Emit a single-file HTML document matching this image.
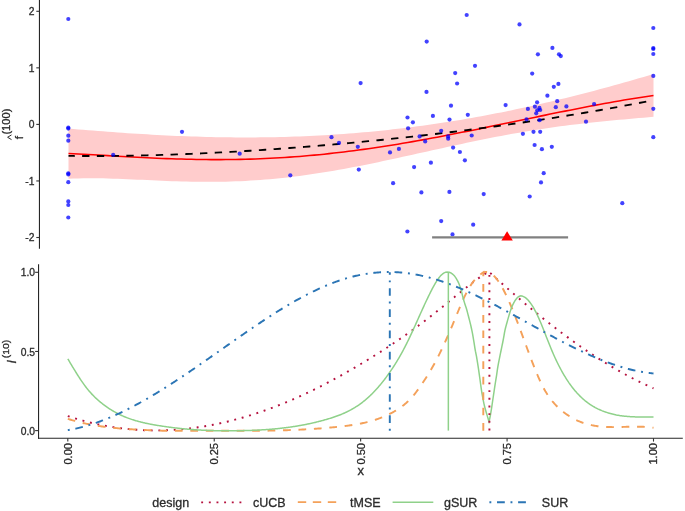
<!DOCTYPE html>
<html><head><meta charset="utf-8"><style>
html,body{margin:0;padding:0;background:#fff;width:685px;height:511px;overflow:hidden}
svg{display:block;will-change:transform}
</style></head><body>
<svg width="685" height="511" viewBox="0 0 685 511"><style>text{font-family:"Liberation Sans",sans-serif;fill:#2b2b2b;stroke:#2b2b2b;stroke-width:0.3px;paint-order:stroke}</style><rect width="685" height="511" fill="#fff"/><path d="M68.5,128.56 L73.42,128.99 L78.33,129.4 L83.25,129.81 L88.16,130.21 L93.08,130.61 L98,130.99 L102.91,131.37 L107.83,131.75 L112.74,132.11 L117.66,132.46 L122.58,132.81 L127.49,133.14 L132.41,133.46 L137.32,133.78 L142.24,134.08 L147.16,134.37 L152.07,134.66 L156.99,134.92 L161.9,135.18 L166.82,135.43 L171.74,135.66 L176.65,135.88 L181.57,136.08 L186.48,136.28 L191.4,136.45 L196.32,136.62 L201.23,136.77 L206.15,136.9 L211.06,137.02 L215.98,137.13 L220.89,137.22 L225.81,137.3 L230.73,137.35 L235.64,137.4 L240.56,137.42 L245.47,137.43 L250.39,137.43 L255.31,137.41 L260.22,137.37 L265.14,137.31 L270.05,137.23 L274.97,137.14 L279.89,137.03 L284.8,136.9 L289.72,136.76 L294.63,136.6 L299.55,136.41 L304.47,136.21 L309.38,135.99 L314.3,135.76 L319.21,135.5 L324.13,135.23 L329.05,134.93 L333.96,134.62 L338.88,134.29 L343.79,133.94 L348.71,133.57 L353.63,133.18 L358.54,132.77 L363.46,132.34 L368.37,131.89 L373.29,131.42 L378.21,130.93 L383.12,130.43 L388.04,129.9 L392.95,129.35 L397.87,128.79 L402.79,128.2 L407.7,127.6 L412.62,126.97 L417.53,126.33 L422.45,125.66 L427.37,124.98 L432.28,124.27 L437.2,123.55 L442.11,122.81 L447.03,122.04 L451.95,121.26 L456.86,120.46 L461.78,119.64 L466.69,118.8 L471.61,117.94 L476.53,117.07 L481.44,116.17 L486.36,115.25 L491.27,114.32 L496.19,113.37 L501.11,112.4 L506.02,111.41 L510.94,110.4 L515.85,109.37 L520.77,108.33 L525.68,107.27 L530.6,106.19 L535.52,105.09 L540.43,103.98 L545.35,102.84 L550.26,101.7 L555.18,100.53 L560.1,99.35 L565.01,98.15 L569.93,96.94 L574.84,95.71 L579.76,94.46 L584.68,93.2 L589.59,91.92 L594.51,90.63 L599.42,89.32 L604.34,88 L609.26,86.67 L614.17,85.32 L619.09,83.95 L624,82.58 L628.92,81.19 L633.84,79.79 L638.75,78.37 L643.67,76.94 L648.58,75.5 L653.5,74.05 L653.5,116.86 L648.58,117.28 L643.67,117.7 L638.75,118.12 L633.84,118.55 L628.92,118.97 L624,119.41 L619.09,119.85 L614.17,120.3 L609.26,120.76 L604.34,121.24 L599.42,121.73 L594.51,122.24 L589.59,122.76 L584.68,123.31 L579.76,123.88 L574.84,124.46 L569.93,125.07 L565.01,125.7 L560.1,126.35 L555.18,127.02 L550.26,127.72 L545.35,128.44 L540.43,129.18 L535.52,129.95 L530.6,130.74 L525.68,131.55 L520.77,132.39 L515.85,133.24 L510.94,134.12 L506.02,135.02 L501.11,135.94 L496.19,136.87 L491.27,137.83 L486.36,138.8 L481.44,139.79 L476.53,140.8 L471.61,141.82 L466.69,142.85 L461.78,143.89 L456.86,144.95 L451.95,146.01 L447.03,147.08 L442.11,148.16 L437.2,149.25 L432.28,150.34 L427.37,151.43 L422.45,152.52 L417.53,153.61 L412.62,154.7 L407.7,155.79 L402.79,156.87 L397.87,157.95 L392.95,159.01 L388.04,160.07 L383.12,161.12 L378.21,162.16 L373.29,163.18 L368.37,164.18 L363.46,165.17 L358.54,166.15 L353.63,167.1 L348.71,168.03 L343.79,168.94 L338.88,169.82 L333.96,170.68 L329.05,171.52 L324.13,172.33 L319.21,173.11 L314.3,173.86 L309.38,174.58 L304.47,175.27 L299.55,175.93 L294.63,176.55 L289.72,177.14 L284.8,177.7 L279.89,178.22 L274.97,178.71 L270.05,179.16 L265.14,179.58 L260.22,179.96 L255.31,180.31 L250.39,180.62 L245.47,180.89 L240.56,181.13 L235.64,181.33 L230.73,181.5 L225.81,181.63 L220.89,181.73 L215.98,181.8 L211.06,181.84 L206.15,181.84 L201.23,181.82 L196.32,181.76 L191.4,181.68 L186.48,181.58 L181.57,181.45 L176.65,181.3 L171.74,181.14 L166.82,180.95 L161.9,180.75 L156.99,180.54 L152.07,180.32 L147.16,180.1 L142.24,179.87 L137.32,179.64 L132.41,179.41 L127.49,179.19 L122.58,178.99 L117.66,178.8 L112.74,178.63 L107.83,178.48 L102.91,178.36 L98,178.28 L93.08,178.23 L88.16,178.23 L83.25,178.28 L78.33,178.38 L73.42,178.55 L68.5,178.78 Z" fill="#ffcccc" stroke="none"/><path d="M68.5,153.46 L73.42,153.7 L78.33,153.96 L83.25,154.22 L88.16,154.49 L93.08,154.77 L98,155.05 L102.91,155.33 L107.83,155.62 L112.74,155.9 L117.66,156.18 L122.58,156.46 L127.49,156.73 L132.41,157 L137.32,157.26 L142.24,157.51 L147.16,157.76 L152.07,157.99 L156.99,158.21 L161.9,158.41 L166.82,158.61 L171.74,158.79 L176.65,158.95 L181.57,159.1 L186.48,159.23 L191.4,159.34 L196.32,159.44 L201.23,159.51 L206.15,159.57 L211.06,159.61 L215.98,159.62 L220.89,159.62 L225.81,159.59 L230.73,159.54 L235.64,159.47 L240.56,159.38 L245.47,159.26 L250.39,159.12 L255.31,158.96 L260.22,158.77 L265.14,158.56 L270.05,158.32 L274.97,158.06 L279.89,157.78 L284.8,157.48 L289.72,157.14 L294.63,156.79 L299.55,156.41 L304.47,156.01 L309.38,155.58 L314.3,155.13 L319.21,154.66 L324.13,154.16 L329.05,153.64 L333.96,153.1 L338.88,152.54 L343.79,151.95 L348.71,151.34 L353.63,150.71 L358.54,150.06 L363.46,149.39 L368.37,148.69 L373.29,147.98 L378.21,147.25 L383.12,146.5 L388.04,145.73 L392.95,144.94 L397.87,144.14 L402.79,143.32 L407.7,142.48 L412.62,141.62 L417.53,140.76 L422.45,139.87 L427.37,138.98 L432.28,138.07 L437.2,137.14 L442.11,136.21 L447.03,135.26 L451.95,134.31 L456.86,133.34 L461.78,132.36 L466.69,131.38 L471.61,130.39 L476.53,129.39 L481.44,128.39 L486.36,127.38 L491.27,126.36 L496.19,125.34 L501.11,124.32 L506.02,123.3 L510.94,122.27 L515.85,121.25 L520.77,120.22 L525.68,119.2 L530.6,118.17 L535.52,117.15 L540.43,116.13 L545.35,115.12 L550.26,114.11 L555.18,113.11 L560.1,112.11 L565.01,111.12 L569.93,110.14 L574.84,109.17 L579.76,108.2 L584.68,107.25 L589.59,106.31 L594.51,105.38 L599.42,104.46 L604.34,103.56 L609.26,102.67 L614.17,101.79 L619.09,100.93 L624,100.09 L628.92,99.27 L633.84,98.46 L638.75,97.67 L643.67,96.9 L648.58,96.15 L653.5,95.42" fill="none" stroke="#ff0000" stroke-width="1.55"/><path d="M68.5,155.89 L73.42,155.94 L78.33,155.98 L83.25,156 L88.16,156.02 L93.08,156.02 L98,156.01 L102.91,155.99 L107.83,155.96 L112.74,155.92 L117.66,155.86 L122.58,155.8 L127.49,155.72 L132.41,155.64 L137.32,155.54 L142.24,155.43 L147.16,155.32 L152.07,155.19 L156.99,155.05 L161.9,154.91 L166.82,154.75 L171.74,154.59 L176.65,154.41 L181.57,154.23 L186.48,154.03 L191.4,153.83 L196.32,153.62 L201.23,153.4 L206.15,153.17 L211.06,152.93 L215.98,152.69 L220.89,152.43 L225.81,152.17 L230.73,151.9 L235.64,151.62 L240.56,151.33 L245.47,151.03 L250.39,150.73 L255.31,150.42 L260.22,150.1 L265.14,149.77 L270.05,149.44 L274.97,149.1 L279.89,148.75 L284.8,148.39 L289.72,148.02 L294.63,147.65 L299.55,147.27 L304.47,146.88 L309.38,146.49 L314.3,146.09 L319.21,145.68 L324.13,145.26 L329.05,144.84 L333.96,144.41 L338.88,143.97 L343.79,143.53 L348.71,143.08 L353.63,142.62 L358.54,142.15 L363.46,141.68 L368.37,141.2 L373.29,140.71 L378.21,140.22 L383.12,139.72 L388.04,139.21 L392.95,138.7 L397.87,138.17 L402.79,137.64 L407.7,137.11 L412.62,136.57 L417.53,136.02 L422.45,135.46 L427.37,134.89 L432.28,134.32 L437.2,133.74 L442.11,133.16 L447.03,132.56 L451.95,131.96 L456.86,131.36 L461.78,130.74 L466.69,130.12 L471.61,129.49 L476.53,128.85 L481.44,128.2 L486.36,127.55 L491.27,126.89 L496.19,126.22 L501.11,125.55 L506.02,124.86 L510.94,124.17 L515.85,123.47 L520.77,122.76 L525.68,122.04 L530.6,121.32 L535.52,120.58 L540.43,119.84 L545.35,119.09 L550.26,118.33 L555.18,117.56 L560.1,116.78 L565.01,115.99 L569.93,115.2 L574.84,114.39 L579.76,113.58 L584.68,112.76 L589.59,111.92 L594.51,111.08 L599.42,110.23 L604.34,109.36 L609.26,108.49 L614.17,107.61 L619.09,106.71 L624,105.81 L628.92,104.89 L633.84,103.97 L638.75,103.03 L643.67,102.08 L648.58,101.12 L653.5,100.15" fill="none" stroke="#000" stroke-width="1.85" stroke-dasharray="7.371 7.371" stroke-dashoffset="1.129"/><g fill="#0000ff" fill-opacity="0.74"><circle cx="68.3" cy="19" r="2.1"/><circle cx="68.3" cy="127.6" r="2.1"/><circle cx="68.3" cy="128.6" r="2.1"/><circle cx="68.3" cy="135.7" r="2.1"/><circle cx="68.3" cy="140.7" r="2.1"/><circle cx="68.3" cy="173.3" r="2.1"/><circle cx="68.3" cy="174.4" r="2.1"/><circle cx="68.3" cy="182.2" r="2.1"/><circle cx="68.3" cy="201.4" r="2.1"/><circle cx="68.3" cy="205" r="2.1"/><circle cx="68.3" cy="217.5" r="2.1"/><circle cx="113.2" cy="154.8" r="2.1"/><circle cx="182" cy="131.8" r="2.1"/><circle cx="239.7" cy="153.7" r="2.1"/><circle cx="290.3" cy="175.3" r="2.1"/><circle cx="331.5" cy="137.2" r="2.1"/><circle cx="339" cy="142.9" r="2.1"/><circle cx="357.8" cy="146.8" r="2.1"/><circle cx="358.8" cy="169.6" r="2.1"/><circle cx="360.6" cy="83.1" r="2.1"/><circle cx="390" cy="152.4" r="2.1"/><circle cx="393.1" cy="183.2" r="2.1"/><circle cx="398.9" cy="148.9" r="2.1"/><circle cx="407.5" cy="117.5" r="2.1"/><circle cx="408.1" cy="128.3" r="2.1"/><circle cx="407.4" cy="231.5" r="2.1"/><circle cx="412.9" cy="122.3" r="2.1"/><circle cx="414.1" cy="167.1" r="2.1"/><circle cx="419.6" cy="136.4" r="2.1"/><circle cx="421.4" cy="192.4" r="2.1"/><circle cx="425.2" cy="141.4" r="2.1"/><circle cx="426.5" cy="91.9" r="2.1"/><circle cx="426.7" cy="41.6" r="2.1"/><circle cx="430.9" cy="162.7" r="2.1"/><circle cx="432.9" cy="115.9" r="2.1"/><circle cx="441.2" cy="130.8" r="2.1"/><circle cx="441.2" cy="221.1" r="2.1"/><circle cx="448.1" cy="136.4" r="2.1"/><circle cx="448.2" cy="138.7" r="2.1"/><circle cx="449.5" cy="119.6" r="2.1"/><circle cx="449.4" cy="191.9" r="2.1"/><circle cx="451" cy="105.7" r="2.1"/><circle cx="452.5" cy="234.4" r="2.1"/><circle cx="453.1" cy="147.6" r="2.1"/><circle cx="455.2" cy="73.1" r="2.1"/><circle cx="457.1" cy="83.5" r="2.1"/><circle cx="459.9" cy="152" r="2.1"/><circle cx="464.9" cy="160.3" r="2.1"/><circle cx="466.7" cy="15" r="2.1"/><circle cx="467.8" cy="114.8" r="2.1"/><circle cx="471.7" cy="135.5" r="2.1"/><circle cx="473.2" cy="224.7" r="2.1"/><circle cx="475" cy="65.8" r="2.1"/><circle cx="483.7" cy="194.1" r="2.1"/><circle cx="505.6" cy="105.1" r="2.1"/><circle cx="519.5" cy="24.4" r="2.1"/><circle cx="522.9" cy="133.8" r="2.1"/><circle cx="526.5" cy="119.4" r="2.1"/><circle cx="527.9" cy="108.9" r="2.1"/><circle cx="529.7" cy="196.5" r="2.1"/><circle cx="532.2" cy="73.6" r="2.1"/><circle cx="533.5" cy="131.8" r="2.1"/><circle cx="534.6" cy="145" r="2.1"/><circle cx="534.9" cy="106.7" r="2.1"/><circle cx="536.2" cy="113.3" r="2.1"/><circle cx="537.3" cy="110.3" r="2.1"/><circle cx="537.1" cy="102.3" r="2.1"/><circle cx="537.9" cy="54.3" r="2.1"/><circle cx="539.4" cy="107.9" r="2.1"/><circle cx="540.2" cy="110" r="2.1"/><circle cx="539.6" cy="120.2" r="2.1"/><circle cx="540.2" cy="131.8" r="2.1"/><circle cx="541" cy="182.4" r="2.1"/><circle cx="541.9" cy="149.2" r="2.1"/><circle cx="543.7" cy="173.2" r="2.1"/><circle cx="547.4" cy="95.7" r="2.1"/><circle cx="551.8" cy="146.8" r="2.1"/><circle cx="552.4" cy="47.9" r="2.1"/><circle cx="555.8" cy="107.2" r="2.1"/><circle cx="557.2" cy="101.2" r="2.1"/><circle cx="558.4" cy="83.9" r="2.1"/><circle cx="553.8" cy="86.8" r="2.1"/><circle cx="559" cy="54.3" r="2.1"/><circle cx="560.8" cy="56.1" r="2.1"/><circle cx="566.4" cy="106.4" r="2.1"/><circle cx="586" cy="121.7" r="2.1"/><circle cx="594.1" cy="104" r="2.1"/><circle cx="622.3" cy="203.2" r="2.1"/><circle cx="653.3" cy="28" r="2.1"/><circle cx="653.3" cy="48" r="2.1"/><circle cx="653.3" cy="49" r="2.1"/><circle cx="653.3" cy="54" r="2.1"/><circle cx="653.3" cy="75.9" r="2.1"/><circle cx="653.3" cy="108.8" r="2.1"/><circle cx="653.3" cy="137.2" r="2.1"/></g><line x1="432.1" y1="237.35" x2="568.1" y2="237.35" stroke="#808080" stroke-width="2.1"/><path d="M507.1,231.2 L512.8,240.5 L501.4,240.5 Z" fill="#ff0000"/><line x1="39.45" y1="0" x2="39.45" y2="248.8" stroke="#262626" stroke-width="1.1"/><line x1="36.3" y1="11.3" x2="39.45" y2="11.3" stroke="#333" stroke-width="1.1"/><text x="34.5" y="15.05" text-anchor="end" font-size="10.3">2</text><line x1="36.3" y1="67.85" x2="39.45" y2="67.85" stroke="#333" stroke-width="1.1"/><text x="34.5" y="71.6" text-anchor="end" font-size="10.3">1</text><line x1="36.3" y1="124.4" x2="39.45" y2="124.4" stroke="#333" stroke-width="1.1"/><text x="34.5" y="128.15" text-anchor="end" font-size="10.3">0</text><line x1="36.3" y1="180.95" x2="39.45" y2="180.95" stroke="#333" stroke-width="1.1"/><text x="34.5" y="184.7" text-anchor="end" font-size="10.3">-1</text><line x1="36.3" y1="237.5" x2="39.45" y2="237.5" stroke="#333" stroke-width="1.1"/><text x="34.5" y="241.25" text-anchor="end" font-size="10.3">-2</text><text transform="translate(22.5,139.3) rotate(-90)" font-size="11.6">f</text><path d="M11.5,134.9 L7.6,137.25 L11.5,139.6" fill="none" stroke="#2b2b2b" stroke-width="1.0"/><text transform="translate(9.6,134.6) rotate(-90)" font-size="10.4" textLength="26" lengthAdjust="spacingAndGlyphs">(100)</text><line x1="38.55" y1="264.3" x2="38.55" y2="438.7" stroke="#262626" stroke-width="1.1"/><line x1="38" y1="438.2" x2="682.8" y2="438.2" stroke="#262626" stroke-width="1.1"/><line x1="35.1" y1="272.3" x2="38.55" y2="272.3" stroke="#333" stroke-width="1.1"/><text x="35.0" y="276.4" text-anchor="end" font-size="10.3">1.0</text><line x1="35.1" y1="351.45" x2="38.55" y2="351.45" stroke="#333" stroke-width="1.1"/><text x="35.0" y="355.55" text-anchor="end" font-size="10.3">0.5</text><line x1="35.1" y1="430.6" x2="38.55" y2="430.6" stroke="#333" stroke-width="1.1"/><text x="35.0" y="434.7" text-anchor="end" font-size="10.3">0.0</text><line x1="67.8" y1="438.2" x2="67.8" y2="441.6" stroke="#333" stroke-width="1.1"/><text transform="translate(71.7,443.0) rotate(-90)" text-anchor="end" font-size="11.1">0.00</text><line x1="214.23" y1="438.2" x2="214.23" y2="441.6" stroke="#333" stroke-width="1.1"/><text transform="translate(218.13,443.0) rotate(-90)" text-anchor="end" font-size="11.1">0.25</text><line x1="360.65" y1="438.2" x2="360.65" y2="441.6" stroke="#333" stroke-width="1.1"/><text transform="translate(364.55,443.0) rotate(-90)" text-anchor="end" font-size="11.1">0.50</text><line x1="507.08" y1="438.2" x2="507.08" y2="441.6" stroke="#333" stroke-width="1.1"/><text transform="translate(510.98,443.0) rotate(-90)" text-anchor="end" font-size="11.1">0.75</text><line x1="653.5" y1="438.2" x2="653.5" y2="441.6" stroke="#333" stroke-width="1.1"/><text transform="translate(657.4,443.0) rotate(-90)" text-anchor="end" font-size="11.1">1.00</text><text x="360.7" y="475.3" text-anchor="middle" font-size="13">x</text><text transform="translate(16.3,363.4) rotate(-90)" font-size="12.5" font-style="italic">I</text><text transform="translate(8.6,358.3) rotate(-90)" font-size="9.5" textLength="18.6" lengthAdjust="spacingAndGlyphs">(10)</text><path d="M67.8,416.07 L68.8,416.41 L69.8,416.74 L70.8,417.06 L71.81,417.38 L72.81,417.7 L73.81,418.01 L74.81,418.32 L75.81,418.62 L76.81,418.92 L77.81,419.22 L78.82,419.51 L79.82,419.8 L80.82,420.09 L81.82,420.37 L82.82,420.64 L83.82,420.92 L84.82,421.19 L85.83,421.45 L86.83,421.71 L87.83,421.97 L88.83,422.22 L89.83,422.47 L90.83,422.71 L91.83,422.96 L92.84,423.19 L93.84,423.42 L94.84,423.65 L95.84,423.88 L96.84,424.1 L97.84,424.32 L98.84,424.53 L99.85,424.74 L100.85,424.95 L101.85,425.15 L102.85,425.35 L103.85,425.54 L104.85,425.73 L105.85,425.92 L106.86,426.1 L107.86,426.28 L108.86,426.45 L109.86,426.62 L110.86,426.79 L111.86,426.95 L112.86,427.11 L113.87,427.27 L114.87,427.42 L115.87,427.57 L116.87,427.71 L117.87,427.85 L118.87,427.99 L119.87,428.12 L120.88,428.25 L121.88,428.38 L122.88,428.5 L123.88,428.62 L124.88,428.73 L125.88,428.84 L126.88,428.95 L127.89,429.05 L128.89,429.15 L129.89,429.24 L130.89,429.34 L131.89,429.42 L132.89,429.51 L133.89,429.59 L134.9,429.66 L135.9,429.74 L136.9,429.81 L137.9,429.87 L138.9,429.94 L139.9,429.99 L140.9,430.05 L141.91,430.1 L142.91,430.15 L143.91,430.19 L144.91,430.23 L145.91,430.27 L146.91,430.3 L147.91,430.33 L148.92,430.36 L149.92,430.38 L150.92,430.4 L151.92,430.41 L152.92,430.42 L153.92,430.43 L154.92,430.43 L155.93,430.43 L156.93,430.43 L157.93,430.42 L158.93,430.41 L159.93,430.4 L160.93,430.38 L161.93,430.36 L162.94,430.34 L163.94,430.31 L164.94,430.28 L165.94,430.24 L166.94,430.21 L167.94,430.16 L168.94,430.12 L169.95,430.07 L170.95,430.02 L171.95,429.96 L172.95,429.9 L173.95,429.84 L174.95,429.77 L175.95,429.7 L176.96,429.63 L177.96,429.55 L178.96,429.47 L179.96,429.39 L180.96,429.3 L181.96,429.21 L182.96,429.12 L183.97,429.02 L184.97,428.92 L185.97,428.82 L186.97,428.71 L187.97,428.6 L188.97,428.49 L189.97,428.37 L190.98,428.25 L191.98,428.12 L192.98,428 L193.98,427.87 L194.98,427.73 L195.98,427.59 L196.98,427.45 L197.99,427.31 L198.99,427.16 L199.99,427.01 L200.99,426.86 L201.99,426.7 L202.99,426.54 L203.99,426.37 L205,426.21 L206,426.04 L207,425.86 L208,425.69 L209,425.51 L210,425.32 L211,425.13 L212.01,424.94 L213.01,424.75 L214.01,424.55 L215.01,424.35 L216.01,424.15 L217.01,423.94 L218.01,423.74 L219.02,423.52 L220.02,423.31 L221.02,423.09 L222.02,422.86 L223.02,422.64 L224.02,422.41 L225.02,422.18 L226.03,421.94 L227.03,421.71 L228.03,421.46 L229.03,421.22 L230.03,420.97 L231.03,420.72 L232.03,420.47 L233.04,420.21 L234.04,419.95 L235.04,419.69 L236.04,419.42 L237.04,419.15 L238.04,418.88 L239.04,418.6 L240.05,418.32 L241.05,418.04 L242.05,417.76 L243.05,417.47 L244.05,417.18 L245.05,416.88 L246.05,416.59 L247.06,416.29 L248.06,415.98 L249.06,415.68 L250.06,415.37 L251.06,415.06 L252.06,414.74 L253.06,414.42 L254.07,414.1 L255.07,413.78 L256.07,413.45 L257.07,413.12 L258.07,412.79 L259.07,412.45 L260.07,412.11 L261.08,411.77 L262.08,411.42 L263.08,411.07 L264.08,410.72 L265.08,410.37 L266.08,410.01 L267.08,409.65 L268.09,409.29 L269.09,408.92 L270.09,408.56 L271.09,408.18 L272.09,407.81 L273.09,407.43 L274.09,407.05 L275.1,406.67 L276.1,406.28 L277.1,405.9 L278.1,405.5 L279.1,405.11 L280.1,404.71 L281.1,404.31 L282.1,403.91 L283.11,403.5 L284.11,403.09 L285.11,402.68 L286.11,402.27 L287.11,401.85 L288.11,401.43 L289.11,401.01 L290.12,400.58 L291.12,400.15 L292.12,399.72 L293.12,399.29 L294.12,398.85 L295.12,398.41 L296.12,397.97 L297.13,397.53 L298.13,397.08 L299.13,396.63 L300.13,396.17 L301.13,395.72 L302.13,395.26 L303.13,394.8 L304.14,394.33 L305.14,393.87 L306.14,393.4 L307.14,392.93 L308.14,392.45 L309.14,391.97 L310.14,391.49 L311.15,391.01 L312.15,390.53 L313.15,390.04 L314.15,389.55 L315.15,389.05 L316.15,388.56 L317.15,388.06 L318.16,387.56 L319.16,387.05 L320.16,386.55 L321.16,386.04 L322.16,385.53 L323.16,385.01 L324.16,384.5 L325.17,383.98 L326.17,383.46 L327.17,382.93 L328.17,382.41 L329.17,381.88 L330.17,381.35 L331.17,380.82 L332.18,380.28 L333.18,379.74 L334.18,379.2 L335.18,378.66 L336.18,378.11 L337.18,377.56 L338.18,377.01 L339.19,376.46 L340.19,375.91 L341.19,375.35 L342.19,374.79 L343.19,374.23 L344.19,373.67 L345.19,373.1 L346.2,372.53 L347.2,371.96 L348.2,371.39 L349.2,370.81 L350.2,370.24 L351.2,369.66 L352.2,369.08 L353.21,368.49 L354.21,367.91 L355.21,367.32 L356.21,366.73 L357.21,366.14 L358.21,365.54 L359.21,364.95 L360.22,364.35 L361.22,363.75 L362.22,363.15 L363.22,362.54 L364.22,361.94 L365.22,361.33 L366.22,360.72 L367.23,360.1 L368.23,359.49 L369.23,358.87 L370.23,358.26 L371.23,357.64 L372.23,357.01 L373.23,356.39 L374.24,355.76 L375.24,355.14 L376.24,354.51 L377.24,353.87 L378.24,353.24 L379.24,352.6 L380.24,351.97 L381.25,351.33 L382.25,350.69 L383.25,350.04 L384.25,349.39 L385.25,348.75 L386.25,348.1 L387.25,347.44 L388.26,346.79 L389.26,346.13 L390.26,345.47 L391.26,344.81 L392.26,344.14 L393.26,343.47 L394.26,342.8 L395.27,342.13 L396.27,341.45 L397.27,340.78 L398.27,340.09 L399.27,339.41 L400.27,338.72 L401.27,338.03 L402.28,337.34 L403.28,336.65 L404.28,335.95 L405.28,335.25 L406.28,334.54 L407.28,333.83 L408.28,333.12 L409.29,332.41 L410.29,331.69 L411.29,330.97 L412.29,330.25 L413.29,329.52 L414.29,328.79 L415.29,328.06 L416.3,327.32 L417.3,326.58 L418.3,325.84 L419.3,325.09 L420.3,324.34 L421.3,323.58 L422.3,322.82 L423.31,322.06 L424.31,321.29 L425.31,320.52 L426.31,319.75 L427.31,318.97 L428.31,318.19 L429.31,317.41 L430.32,316.62 L431.32,315.83 L432.32,315.04 L433.32,314.24 L434.32,313.44 L435.32,312.64 L436.32,311.84 L437.33,311.03 L438.33,310.23 L439.33,309.42 L440.33,308.61 L441.33,307.8 L442.33,306.98 L443.33,306.17 L444.34,305.35 L445.34,304.54 L446.34,303.72 L447.34,302.9 L448.34,302.09 L449.34,301.27 L450.34,300.45 L451.35,299.63 L452.35,298.82 L453.35,298 L454.35,297.19 L455.35,296.37 L456.35,295.56 L457.35,294.75 L458.36,293.94 L459.36,293.13 L460.36,292.32 L461.36,291.51 L462.36,290.71 L463.36,289.91 L464.36,289.11 L465.37,288.31 L466.37,287.52 L467.37,286.72 L468.37,285.94 L469.37,285.15 L470.37,284.37 L471.37,283.59 L472.38,282.82 L473.38,282.06 L474.38,281.3 L475.38,280.55 L476.38,279.81 L477.38,279.08 L478.38,278.36 L479.39,277.65 L480.39,276.95 L481.39,276.27 L482.39,275.59 L483.39,274.94 L484.39,274.29 L485.39,273.66 L486.4,273.05 L487.4,272.46 L488.4,271.88 L489.4,271.32 L489.4,272.25 L490.4,273.16 L491.4,274.07 L492.4,274.98 L493.4,275.89 L494.4,276.79 L495.4,277.69 L496.4,278.6 L497.4,279.5 L498.41,280.39 L499.41,281.29 L500.41,282.19 L501.41,283.08 L502.41,283.97 L503.41,284.86 L504.41,285.75 L505.41,286.63 L506.41,287.51 L507.41,288.39 L508.41,289.27 L509.41,290.15 L510.41,291.03 L511.41,291.9 L512.41,292.77 L513.41,293.64 L514.42,294.51 L515.42,295.37 L516.42,296.24 L517.42,297.1 L518.42,297.96 L519.42,298.81 L520.42,299.67 L521.42,300.52 L522.42,301.37 L523.42,302.22 L524.42,303.06 L525.42,303.91 L526.42,304.75 L527.42,305.59 L528.42,306.43 L529.42,307.26 L530.42,308.09 L531.43,308.92 L532.43,309.75 L533.43,310.58 L534.43,311.4 L535.43,312.22 L536.43,313.04 L537.43,313.85 L538.43,314.67 L539.43,315.48 L540.43,316.29 L541.43,317.09 L542.43,317.9 L543.43,318.7 L544.43,319.5 L545.43,320.29 L546.43,321.09 L547.44,321.88 L548.44,322.67 L549.44,323.45 L550.44,324.24 L551.44,325.02 L552.44,325.8 L553.44,326.57 L554.44,327.34 L555.44,328.11 L556.44,328.88 L557.44,329.65 L558.44,330.41 L559.44,331.17 L560.44,331.93 L561.44,332.68 L562.44,333.43 L563.45,334.18 L564.45,334.93 L565.45,335.67 L566.45,336.41 L567.45,337.15 L568.45,337.88 L569.45,338.61 L570.45,339.34 L571.45,340.07 L572.45,340.79 L573.45,341.51 L574.45,342.22 L575.45,342.94 L576.45,343.65 L577.45,344.36 L578.45,345.06 L579.45,345.76 L580.46,346.46 L581.46,347.16 L582.46,347.85 L583.46,348.54 L584.46,349.23 L585.46,349.91 L586.46,350.59 L587.46,351.27 L588.46,351.94 L589.46,352.61 L590.46,353.28 L591.46,353.95 L592.46,354.61 L593.46,355.27 L594.46,355.92 L595.46,356.57 L596.47,357.22 L597.47,357.86 L598.47,358.51 L599.47,359.14 L600.47,359.78 L601.47,360.41 L602.47,361.04 L603.47,361.66 L604.47,362.29 L605.47,362.9 L606.47,363.52 L607.47,364.13 L608.47,364.74 L609.47,365.34 L610.47,365.94 L611.47,366.54 L612.48,367.13 L613.48,367.72 L614.48,368.31 L615.48,368.89 L616.48,369.47 L617.48,370.05 L618.48,370.62 L619.48,371.19 L620.48,371.75 L621.48,372.32 L622.48,372.87 L623.48,373.43 L624.48,373.98 L625.48,374.52 L626.48,375.07 L627.48,375.61 L628.48,376.14 L629.49,376.67 L630.49,377.2 L631.49,377.72 L632.49,378.24 L633.49,378.76 L634.49,379.27 L635.49,379.78 L636.49,380.29 L637.49,380.79 L638.49,381.28 L639.49,381.78 L640.49,382.27 L641.49,382.75 L642.49,383.23 L643.49,383.71 L644.49,384.18 L645.5,384.65 L646.5,385.12 L647.5,385.58 L648.5,386.04 L649.5,386.49 L650.5,386.94 L651.5,387.38 L652.5,387.82 L653.5,388.26" fill="none" stroke="#b5123f" stroke-width="1.93" stroke-dasharray="1.92 5.76"/><path d="M67.8,418.83 L68.8,419.15 L69.8,419.46 L70.8,419.77 L71.8,420.07 L72.81,420.36 L73.81,420.65 L74.81,420.93 L75.81,421.21 L76.81,421.48 L77.81,421.74 L78.81,421.99 L79.81,422.25 L80.82,422.49 L81.82,422.73 L82.82,422.96 L83.82,423.19 L84.82,423.41 L85.82,423.63 L86.82,423.84 L87.82,424.05 L88.83,424.25 L89.83,424.45 L90.83,424.64 L91.83,424.82 L92.83,425.01 L93.83,425.18 L94.83,425.36 L95.83,425.52 L96.83,425.69 L97.84,425.85 L98.84,426 L99.84,426.15 L100.84,426.3 L101.84,426.44 L102.84,426.58 L103.84,426.72 L104.84,426.85 L105.85,426.98 L106.85,427.1 L107.85,427.22 L108.85,427.34 L109.85,427.45 L110.85,427.56 L111.85,427.67 L112.85,427.77 L113.86,427.88 L114.86,427.97 L115.86,428.07 L116.86,428.16 L117.86,428.26 L118.86,428.34 L119.86,428.43 L120.86,428.51 L121.87,428.59 L122.87,428.67 L123.87,428.75 L124.87,428.83 L125.87,428.9 L126.87,428.97 L127.87,429.04 L128.87,429.11 L129.87,429.17 L130.88,429.24 L131.88,429.3 L132.88,429.36 L133.88,429.43 L134.88,429.49 L135.88,429.54 L136.88,429.6 L137.88,429.66 L138.89,429.71 L139.89,429.77 L140.89,429.82 L141.89,429.87 L142.89,429.92 L143.89,429.97 L144.89,430.02 L145.89,430.07 L146.9,430.11 L147.9,430.16 L148.9,430.2 L149.9,430.24 L150.9,430.28 L151.9,430.32 L152.9,430.36 L153.9,430.4 L154.9,430.44 L155.91,430.48 L156.91,430.51 L157.91,430.55 L158.91,430.58 L159.91,430.61 L160.91,430.64 L161.91,430.67 L162.91,430.7 L163.92,430.7 L164.92,430.7 L165.92,430.7 L166.92,430.7 L167.92,430.7 L168.92,430.7 L169.92,430.7 L170.92,430.7 L171.93,430.7 L172.93,430.7 L173.93,430.7 L174.93,430.7 L175.93,430.7 L176.93,430.7 L177.93,430.7 L178.93,430.7 L179.93,430.7 L180.94,430.7 L181.94,430.7 L182.94,430.7 L183.94,430.7 L184.94,430.7 L185.94,430.7 L186.94,430.7 L187.94,430.7 L188.95,430.7 L189.95,430.7 L190.95,430.7 L191.95,430.7 L192.95,430.7 L193.95,430.7 L194.95,430.7 L195.95,430.7 L196.96,430.7 L197.96,430.7 L198.96,430.7 L199.96,430.7 L200.96,430.7 L201.96,430.7 L202.96,430.7 L203.96,430.7 L204.97,430.7 L205.97,430.7 L206.97,430.7 L207.97,430.7 L208.97,430.7 L209.97,430.7 L210.97,430.7 L211.97,430.7 L212.97,430.7 L213.98,430.7 L214.98,430.7 L215.98,430.7 L216.98,430.7 L217.98,430.7 L218.98,430.7 L219.98,430.7 L220.98,430.7 L221.99,430.7 L222.99,430.7 L223.99,430.7 L224.99,430.7 L225.99,430.7 L226.99,430.7 L227.99,430.7 L228.99,430.7 L230,430.7 L231,430.7 L232,430.7 L233,430.7 L234,430.7 L235,430.7 L236,430.7 L237,430.7 L238,430.7 L239.01,430.7 L240.01,430.7 L241.01,430.7 L242.01,430.7 L243.01,430.7 L244.01,430.7 L245.01,430.7 L246.01,430.7 L247.02,430.7 L248.02,430.7 L249.02,430.7 L250.02,430.7 L251.02,430.7 L252.02,430.7 L253.02,430.7 L254.02,430.7 L255.03,430.7 L256.03,430.7 L257.03,430.7 L258.03,430.7 L259.03,430.7 L260.03,430.7 L261.03,430.7 L262.03,430.7 L263.03,430.7 L264.04,430.7 L265.04,430.7 L266.04,430.7 L267.04,430.69 L268.04,430.67 L269.04,430.65 L270.04,430.63 L271.04,430.61 L272.05,430.59 L273.05,430.57 L274.05,430.54 L275.05,430.52 L276.05,430.5 L277.05,430.47 L278.05,430.44 L279.05,430.42 L280.06,430.39 L281.06,430.36 L282.06,430.33 L283.06,430.3 L284.06,430.27 L285.06,430.24 L286.06,430.21 L287.06,430.17 L288.07,430.14 L289.07,430.1 L290.07,430.07 L291.07,430.03 L292.07,429.99 L293.07,429.95 L294.07,429.91 L295.07,429.87 L296.07,429.82 L297.08,429.78 L298.08,429.74 L299.08,429.69 L300.08,429.64 L301.08,429.59 L302.08,429.54 L303.08,429.49 L304.08,429.44 L305.09,429.39 L306.09,429.33 L307.09,429.27 L308.09,429.22 L309.09,429.16 L310.09,429.1 L311.09,429.04 L312.09,428.97 L313.1,428.91 L314.1,428.84 L315.1,428.78 L316.1,428.71 L317.1,428.64 L318.1,428.57 L319.1,428.49 L320.1,428.42 L321.1,428.34 L322.11,428.26 L323.11,428.18 L324.11,428.1 L325.11,428.02 L326.11,427.94 L327.11,427.85 L328.11,427.76 L329.11,427.67 L330.12,427.58 L331.12,427.49 L332.12,427.39 L333.12,427.3 L334.12,427.2 L335.12,427.1 L336.12,427 L337.12,426.89 L338.13,426.79 L339.13,426.68 L340.13,426.57 L341.13,426.46 L342.13,426.35 L343.13,426.23 L344.13,426.11 L345.13,425.99 L346.13,425.87 L347.14,425.74 L348.14,425.61 L349.14,425.47 L350.14,425.33 L351.14,425.19 L352.14,425.04 L353.14,424.89 L354.14,424.73 L355.15,424.57 L356.15,424.4 L357.15,424.22 L358.15,424.04 L359.15,423.85 L360.15,423.66 L361.15,423.46 L362.15,423.25 L363.16,423.04 L364.16,422.82 L365.16,422.59 L366.16,422.35 L367.16,422.11 L368.16,421.85 L369.16,421.59 L370.16,421.32 L371.17,421.04 L372.17,420.75 L373.17,420.45 L374.17,420.14 L375.17,419.82 L376.17,419.49 L377.17,419.15 L378.17,418.8 L379.17,418.44 L380.18,418.07 L381.18,417.68 L382.18,417.29 L383.18,416.88 L384.18,416.46 L385.18,416.03 L386.18,415.58 L387.18,415.13 L388.19,414.66 L389.19,414.17 L390.19,413.67 L391.19,413.16 L392.19,412.64 L393.19,412.09 L394.19,411.53 L395.19,410.95 L396.2,410.35 L397.2,409.73 L398.2,409.09 L399.2,408.42 L400.2,407.72 L401.2,407 L402.2,406.25 L403.2,405.47 L404.2,404.66 L405.21,403.81 L406.21,402.94 L407.21,402.02 L408.21,401.08 L409.21,400.09 L410.21,399.06 L411.21,397.99 L412.21,396.88 L413.22,395.73 L414.22,394.54 L415.22,393.29 L416.22,392.01 L417.22,390.68 L418.22,389.31 L419.22,387.92 L420.22,386.49 L421.23,385.03 L422.23,383.54 L423.23,382.04 L424.23,380.52 L425.23,378.98 L426.23,377.42 L427.23,375.84 L428.23,374.24 L429.23,372.62 L430.24,370.96 L431.24,369.27 L432.24,367.54 L433.24,365.77 L434.24,363.97 L435.24,362.12 L436.24,360.24 L437.24,358.32 L438.25,356.37 L439.25,354.37 L440.25,352.35 L441.25,350.29 L442.25,348.2 L443.25,346.07 L444.25,343.91 L445.25,341.72 L446.26,339.5 L447.26,337.25 L448.26,334.97 L449.26,332.67 L450.26,330.33 L451.26,327.97 L452.26,325.58 L453.26,323.16 L454.27,320.73 L455.27,318.29 L456.27,315.85 L457.27,313.42 L458.27,311 L459.27,308.6 L460.27,306.23 L461.27,303.9 L462.27,301.62 L463.28,299.39 L464.28,297.22 L465.28,295.11 L466.28,293.09 L467.28,291.15 L468.28,289.3 L469.28,287.55 L470.28,285.91 L471.29,284.38 L472.29,282.96 L473.29,281.64 L474.29,280.41 L475.29,279.26 L476.29,278.19 L477.29,277.2 L478.29,276.26 L479.3,275.39 L480.3,274.56 L481.3,273.78 L482.3,273.03 L483.3,272.31 L483.3,272.49 L484.3,272.15 L485.3,271.95 L486.3,271.89 L487.3,271.98 L488.31,272.21 L489.31,272.57 L490.31,273.05 L491.31,273.67 L492.31,274.4 L493.31,275.26 L494.31,276.23 L495.31,277.31 L496.32,278.5 L497.32,279.8 L498.32,281.19 L499.32,282.68 L500.32,284.27 L501.32,285.94 L502.32,287.7 L503.32,289.55 L504.32,291.47 L505.33,293.46 L506.33,295.53 L507.33,297.67 L508.33,299.87 L509.33,302.13 L510.33,304.44 L511.33,306.81 L512.33,309.23 L513.34,311.7 L514.34,314.21 L515.34,316.75 L516.34,319.33 L517.34,321.94 L518.34,324.58 L519.34,327.25 L520.34,329.93 L521.34,332.63 L522.35,335.34 L523.35,338.06 L524.35,340.79 L525.35,343.52 L526.35,346.25 L527.35,348.97 L528.35,351.68 L529.35,354.37 L530.36,357.05 L531.36,359.7 L532.36,362.31 L533.36,364.89 L534.36,367.43 L535.36,369.92 L536.36,372.36 L537.36,374.75 L538.36,377.07 L539.37,379.32 L540.37,381.51 L541.37,383.61 L542.37,385.64 L543.37,387.57 L544.37,389.42 L545.37,391.18 L546.37,392.85 L547.38,394.44 L548.38,395.95 L549.38,397.39 L550.38,398.75 L551.38,400.06 L552.38,401.3 L553.38,402.48 L554.38,403.61 L555.38,404.69 L556.39,405.72 L557.39,406.71 L558.39,407.66 L559.39,408.57 L560.39,409.46 L561.39,410.32 L562.39,411.15 L563.39,411.95 L564.4,412.72 L565.4,413.47 L566.4,414.2 L567.4,414.9 L568.4,415.57 L569.4,416.22 L570.4,416.84 L571.4,417.44 L572.4,418.02 L573.41,418.58 L574.41,419.11 L575.41,419.62 L576.41,420.11 L577.41,420.58 L578.41,421.02 L579.41,421.45 L580.41,421.86 L581.42,422.25 L582.42,422.62 L583.42,422.97 L584.42,423.3 L585.42,423.61 L586.42,423.91 L587.42,424.19 L588.42,424.46 L589.42,424.71 L590.43,424.94 L591.43,425.16 L592.43,425.37 L593.43,425.56 L594.43,425.73 L595.43,425.9 L596.43,426.05 L597.43,426.19 L598.44,426.31 L599.44,426.43 L600.44,426.53 L601.44,426.63 L602.44,426.71 L603.44,426.78 L604.44,426.85 L605.44,426.91 L606.44,426.95 L607.45,426.99 L608.45,427.02 L609.45,427.05 L610.45,427.07 L611.45,427.08 L612.45,427.09 L613.45,427.09 L614.45,427.08 L615.46,427.08 L616.46,427.06 L617.46,427.05 L618.46,427.03 L619.46,427.01 L620.46,426.99 L621.46,426.96 L622.46,426.93 L623.46,426.9 L624.47,426.88 L625.47,426.85 L626.47,426.82 L627.47,426.79 L628.47,426.77 L629.47,426.74 L630.47,426.72 L631.47,426.7 L632.48,426.68 L633.48,426.67 L634.48,426.66 L635.48,426.66 L636.48,426.66 L637.48,426.66 L638.48,426.67 L639.48,426.69 L640.48,426.71 L641.49,426.74 L642.49,426.78 L643.49,426.83 L644.49,426.88 L645.49,426.94 L646.49,427.01 L647.49,427.09 L648.49,427.18 L649.5,427.29 L650.5,427.4 L651.5,427.52 L652.5,427.66 L653.5,427.8" fill="none" stroke="#f4a15a" stroke-width="1.93" stroke-dasharray="7.72 7.73"/><path d="M67.8,358.78 L68.5,359.96 L69.2,361.15 L69.9,362.33 L70.6,363.51 L71.3,364.68 L72,365.85 L72.71,367.02 L73.41,368.18 L74.11,369.33 L74.81,370.48 L75.51,371.62 L76.21,372.75 L76.91,373.87 L77.61,374.98 L78.31,376.08 L79.01,377.17 L79.71,378.24 L80.41,379.3 L81.11,380.35 L81.81,381.38 L82.52,382.4 L83.22,383.4 L83.92,384.38 L84.62,385.35 L85.32,386.29 L86.02,387.22 L86.72,388.12 L87.42,389.01 L88.12,389.87 L88.82,390.71 L89.52,391.53 L90.22,392.34 L90.92,393.12 L91.63,393.88 L92.33,394.62 L93.03,395.35 L93.73,396.06 L94.43,396.76 L95.13,397.44 L95.83,398.1 L96.53,398.75 L97.23,399.39 L97.93,400.01 L98.63,400.62 L99.33,401.22 L100.03,401.81 L100.73,402.39 L101.44,402.95 L102.14,403.51 L102.84,404.06 L103.54,404.6 L104.24,405.13 L104.94,405.65 L105.64,406.16 L106.34,406.66 L107.04,407.15 L107.74,407.63 L108.44,408.1 L109.14,408.57 L109.84,409.02 L110.54,409.47 L111.25,409.91 L111.95,410.34 L112.65,410.76 L113.35,411.17 L114.05,411.57 L114.75,411.97 L115.45,412.36 L116.15,412.74 L116.85,413.11 L117.55,413.48 L118.25,413.84 L118.95,414.19 L119.65,414.53 L120.36,414.87 L121.06,415.2 L121.76,415.52 L122.46,415.84 L123.16,416.15 L123.86,416.45 L124.56,416.74 L125.26,417.03 L125.96,417.32 L126.66,417.59 L127.36,417.86 L128.06,418.13 L128.76,418.39 L129.46,418.64 L130.17,418.89 L130.87,419.13 L131.57,419.37 L132.27,419.6 L132.97,419.83 L133.67,420.05 L134.37,420.26 L135.07,420.47 L135.77,420.68 L136.47,420.88 L137.17,421.08 L137.87,421.27 L138.57,421.46 L139.28,421.65 L139.98,421.83 L140.68,422.01 L141.38,422.18 L142.08,422.35 L142.78,422.51 L143.48,422.68 L144.18,422.84 L144.88,422.99 L145.58,423.15 L146.28,423.3 L146.98,423.44 L147.68,423.59 L148.38,423.73 L149.09,423.87 L149.79,424 L150.49,424.14 L151.19,424.27 L151.89,424.4 L152.59,424.53 L153.29,424.66 L153.99,424.78 L154.69,424.91 L155.39,425.03 L156.09,425.15 L156.79,425.27 L157.49,425.39 L158.2,425.5 L158.9,425.62 L159.6,425.73 L160.3,425.84 L161,425.95 L161.7,426.06 L162.4,426.17 L163.1,426.28 L163.8,426.38 L164.5,426.48 L165.2,426.59 L165.9,426.69 L166.6,426.79 L167.3,426.88 L168.01,426.98 L168.71,427.08 L169.41,427.17 L170.11,427.26 L170.81,427.35 L171.51,427.44 L172.21,427.53 L172.91,427.62 L173.61,427.71 L174.31,427.79 L175.01,427.88 L175.71,427.96 L176.41,428.04 L177.11,428.12 L177.82,428.2 L178.52,428.27 L179.22,428.35 L179.92,428.42 L180.62,428.5 L181.32,428.57 L182.02,428.64 L182.72,428.71 L183.42,428.78 L184.12,428.84 L184.82,428.91 L185.52,428.98 L186.22,429.04 L186.93,429.1 L187.63,429.16 L188.33,429.22 L189.03,429.28 L189.73,429.34 L190.43,429.39 L191.13,429.45 L191.83,429.5 L192.53,429.56 L193.23,429.61 L193.93,429.66 L194.63,429.71 L195.33,429.76 L196.03,429.8 L196.74,429.85 L197.44,429.89 L198.14,429.94 L198.84,429.98 L199.54,430.02 L200.24,430.06 L200.94,430.1 L201.64,430.14 L202.34,430.17 L203.04,430.21 L203.74,430.25 L204.44,430.28 L205.14,430.31 L205.85,430.34 L206.55,430.37 L207.25,430.4 L207.95,430.43 L208.65,430.46 L209.35,430.49 L210.05,430.51 L210.75,430.54 L211.45,430.56 L212.15,430.58 L212.85,430.6 L213.55,430.62 L214.25,430.64 L214.95,430.66 L215.66,430.68 L216.36,430.69 L217.06,430.7 L217.76,430.7 L218.46,430.7 L219.16,430.7 L219.86,430.7 L220.56,430.7 L221.26,430.7 L221.96,430.7 L222.66,430.7 L223.36,430.7 L224.06,430.7 L224.77,430.7 L225.47,430.7 L226.17,430.7 L226.87,430.7 L227.57,430.7 L228.27,430.7 L228.97,430.7 L229.67,430.7 L230.37,430.7 L231.07,430.7 L231.77,430.7 L232.47,430.7 L233.17,430.7 L233.87,430.7 L234.58,430.7 L235.28,430.7 L235.98,430.7 L236.68,430.7 L237.38,430.7 L238.08,430.7 L238.78,430.7 L239.48,430.7 L240.18,430.7 L240.88,430.69 L241.58,430.68 L242.28,430.66 L242.98,430.64 L243.68,430.62 L244.39,430.61 L245.09,430.59 L245.79,430.57 L246.49,430.55 L247.19,430.52 L247.89,430.5 L248.59,430.48 L249.29,430.45 L249.99,430.43 L250.69,430.4 L251.39,430.38 L252.09,430.35 L252.79,430.32 L253.5,430.29 L254.2,430.26 L254.9,430.23 L255.6,430.2 L256.3,430.16 L257,430.13 L257.7,430.09 L258.4,430.06 L259.1,430.02 L259.8,429.98 L260.5,429.94 L261.2,429.9 L261.9,429.86 L262.6,429.81 L263.31,429.77 L264.01,429.73 L264.71,429.68 L265.41,429.63 L266.11,429.58 L266.81,429.53 L267.51,429.48 L268.21,429.43 L268.91,429.38 L269.61,429.32 L270.31,429.26 L271.01,429.21 L271.71,429.15 L272.42,429.09 L273.12,429.03 L273.82,428.96 L274.52,428.9 L275.22,428.83 L275.92,428.77 L276.62,428.7 L277.32,428.63 L278.02,428.56 L278.72,428.49 L279.42,428.41 L280.12,428.34 L280.82,428.26 L281.52,428.18 L282.23,428.1 L282.93,428.02 L283.63,427.94 L284.33,427.85 L285.03,427.77 L285.73,427.68 L286.43,427.59 L287.13,427.5 L287.83,427.41 L288.53,427.31 L289.23,427.22 L289.93,427.12 L290.63,427.02 L291.33,426.92 L292.04,426.82 L292.74,426.71 L293.44,426.61 L294.14,426.5 L294.84,426.39 L295.54,426.28 L296.24,426.17 L296.94,426.05 L297.64,425.93 L298.34,425.82 L299.04,425.7 L299.74,425.57 L300.44,425.45 L301.15,425.32 L301.85,425.2 L302.55,425.07 L303.25,424.94 L303.95,424.8 L304.65,424.67 L305.35,424.53 L306.05,424.39 L306.75,424.25 L307.45,424.11 L308.15,423.96 L308.85,423.81 L309.55,423.67 L310.25,423.51 L310.96,423.36 L311.66,423.21 L312.36,423.05 L313.06,422.89 L313.76,422.73 L314.46,422.56 L315.16,422.4 L315.86,422.23 L316.56,422.06 L317.26,421.89 L317.96,421.71 L318.66,421.53 L319.36,421.35 L320.07,421.17 L320.77,420.99 L321.47,420.8 L322.17,420.61 L322.87,420.42 L323.57,420.23 L324.27,420.04 L324.97,419.84 L325.67,419.64 L326.37,419.44 L327.07,419.23 L327.77,419.02 L328.47,418.81 L329.17,418.6 L329.88,418.39 L330.58,418.17 L331.28,417.95 L331.98,417.73 L332.68,417.5 L333.38,417.27 L334.08,417.03 L334.78,416.79 L335.48,416.55 L336.18,416.3 L336.88,416.05 L337.58,415.79 L338.28,415.53 L338.99,415.27 L339.69,415 L340.39,414.72 L341.09,414.44 L341.79,414.15 L342.49,413.86 L343.19,413.56 L343.89,413.25 L344.59,412.94 L345.29,412.62 L345.99,412.29 L346.69,411.96 L347.39,411.62 L348.09,411.27 L348.8,410.92 L349.5,410.56 L350.2,410.19 L350.9,409.81 L351.6,409.42 L352.3,409.03 L353,408.63 L353.7,408.21 L354.4,407.79 L355.1,407.37 L355.8,406.93 L356.5,406.48 L357.2,406.02 L357.9,405.55 L358.61,405.08 L359.31,404.59 L360.01,404.09 L360.71,403.59 L361.41,403.07 L362.11,402.54 L362.81,402 L363.51,401.45 L364.21,400.89 L364.91,400.31 L365.61,399.73 L366.31,399.13 L367.01,398.52 L367.72,397.9 L368.42,397.27 L369.12,396.63 L369.82,395.97 L370.52,395.3 L371.22,394.62 L371.92,393.93 L372.62,393.23 L373.32,392.51 L374.02,391.79 L374.72,391.05 L375.42,390.3 L376.12,389.54 L376.82,388.76 L377.53,387.97 L378.23,387.17 L378.93,386.36 L379.63,385.54 L380.33,384.7 L381.03,383.86 L381.73,383 L382.43,382.12 L383.13,381.24 L383.83,380.34 L384.53,379.43 L385.23,378.51 L385.93,377.58 L386.64,376.63 L387.34,375.67 L388.04,374.7 L388.74,373.72 L389.44,372.72 L390.14,371.72 L390.84,370.69 L391.54,369.66 L392.24,368.61 L392.94,367.55 L393.64,366.47 L394.34,365.38 L395.04,364.28 L395.74,363.16 L396.45,362.03 L397.15,360.87 L397.85,359.71 L398.55,358.52 L399.25,357.32 L399.95,356.11 L400.65,354.87 L401.35,353.62 L402.05,352.35 L402.75,351.06 L403.45,349.75 L404.15,348.43 L404.85,347.08 L405.56,345.71 L406.26,344.33 L406.96,342.92 L407.66,341.5 L408.36,340.06 L409.06,338.6 L409.76,337.13 L410.46,335.65 L411.16,334.15 L411.86,332.64 L412.56,331.12 L413.26,329.59 L413.96,328.06 L414.66,326.51 L415.37,324.96 L416.07,323.41 L416.77,321.85 L417.47,320.29 L418.17,318.73 L418.87,317.17 L419.57,315.61 L420.27,314.05 L420.97,312.49 L421.67,310.94 L422.37,309.4 L423.07,307.86 L423.77,306.33 L424.47,304.8 L425.18,303.29 L425.88,301.79 L426.58,300.3 L427.28,298.82 L427.98,297.36 L428.68,295.91 L429.38,294.48 L430.08,293.07 L430.78,291.68 L431.48,290.3 L432.18,288.95 L432.88,287.63 L433.58,286.34 L434.29,285.08 L434.99,283.86 L435.69,282.68 L436.39,281.54 L437.09,280.45 L437.79,279.41 L438.49,278.43 L439.19,277.5 L439.89,276.63 L440.59,275.83 L441.29,275.1 L441.99,274.44 L442.69,273.85 L443.39,273.35 L444.1,272.92 L444.8,272.58 L445.5,272.33 L446.2,272.17 L446.9,272.11 L447.6,272.15 L448.3,272.29 L448.3,272.1 L448.8,272.15 L449.3,272.26 L449.81,272.44 L450.31,272.66 L450.81,272.93 L451.31,273.24 L451.82,273.58 L452.32,273.94 L452.82,274.31 L453.32,274.7 L453.83,275.16 L454.33,275.71 L454.83,276.34 L455.33,277.06 L455.84,277.83 L456.34,278.67 L456.84,279.54 L457.34,280.46 L457.85,281.4 L458.35,282.41 L458.85,283.54 L459.35,284.78 L459.86,286.13 L460.36,287.58 L460.86,289.17 L461.36,291.02 L461.87,293.03 L462.37,295.11 L462.87,297.15 L463.37,299.06 L463.88,300.77 L464.38,302.36 L464.88,303.9 L465.38,305.41 L465.89,306.96 L466.39,308.58 L466.89,310.33 L467.39,312.17 L467.9,314.09 L468.4,316.04 L468.9,317.99 L469.4,319.93 L469.91,321.88 L470.41,323.89 L470.91,326.01 L471.41,328.27 L471.92,330.65 L472.42,333.18 L472.92,335.87 L473.42,338.81 L473.93,341.91 L474.43,345.14 L474.93,348.39 L475.43,351.15 L475.94,353.64 L476.44,356.17 L476.94,359.01 L477.44,362.13 L477.95,365.39 L478.45,368.69 L478.95,372.08 L479.45,375.58 L479.96,379.27 L480.46,382.99 L480.96,386.56 L481.46,390.07 L481.97,393.29 L482.47,396.19 L482.97,398.92 L483.47,401.47 L483.98,403.82 L484.48,405.96 L484.98,407.91 L485.48,409.74 L485.99,411.48 L486.49,413.19 L486.99,414.91 L487.49,416.63 L488,418.32 L488.5,419.98 L489,421.6 L489,421.6 L489.5,419.55 L490,417.23 L490.5,414.67 L491,411.73 L491.5,408.54 L492,405.3 L492.5,401.94 L493,398.51 L493.5,395.13 L494,391.77 L494.5,388.42 L495,385.14 L495.5,382 L496,378.95 L496.5,375.84 L497,372.47 L497.5,368.97 L498,365.82 L498.5,363.09 L499,360.57 L499.5,358.1 L500,355.61 L500.5,353.17 L501,350.75 L501.5,348.31 L502,345.9 L502.5,343.49 L503,341.02 L503.5,338.39 L504,335.54 L504.5,332.71 L505,330.2 L505.5,328.04 L506,326.07 L506.5,324.21 L507,322.43 L507.5,320.66 L508,318.87 L508.5,317.09 L509,315.35 L509.5,313.68 L510,312.1 L510.5,310.62 L511,309.2 L511.5,307.83 L512,306.55 L512.5,305.36 L513,304.3 L513.5,303.31 L514,302.38 L514.5,301.51 L515,300.7 L515.5,299.96 L516,299.3 L516.5,298.68 L517,298.08 L517.5,297.53 L518,297.06 L518.5,296.7 L519,296.46 L519.5,296.25 L520,296.07 L520.5,295.95 L521,295.9 L521,295.88 L522,296.05 L523.01,296.37 L524.01,296.84 L525.02,297.45 L526.02,298.19 L527.02,299.07 L528.03,300.07 L529.03,301.21 L530.03,302.47 L531.04,303.85 L532.04,305.35 L533.05,306.97 L534.05,308.69 L535.05,310.53 L536.06,312.46 L537.06,314.51 L538.06,316.65 L539.07,318.88 L540.07,321.19 L541.08,323.58 L542.08,326.03 L543.08,328.52 L544.09,331.05 L545.09,333.6 L546.09,336.16 L547.1,338.73 L548.1,341.28 L549.11,343.81 L550.11,346.31 L551.11,348.76 L552.12,351.15 L553.12,353.48 L554.12,355.75 L555.13,357.96 L556.13,360.11 L557.14,362.21 L558.14,364.24 L559.14,366.22 L560.15,368.14 L561.15,370.01 L562.16,371.83 L563.16,373.59 L564.16,375.3 L565.17,376.96 L566.17,378.57 L567.17,380.13 L568.18,381.64 L569.18,383.11 L570.19,384.52 L571.19,385.9 L572.19,387.22 L573.2,388.51 L574.2,389.75 L575.2,390.95 L576.21,392.11 L577.21,393.23 L578.22,394.31 L579.22,395.35 L580.22,396.35 L581.23,397.32 L582.23,398.25 L583.23,399.15 L584.24,400.01 L585.24,400.85 L586.25,401.64 L587.25,402.41 L588.25,403.15 L589.26,403.86 L590.26,404.54 L591.27,405.2 L592.27,405.82 L593.27,406.43 L594.28,407 L595.28,407.56 L596.28,408.09 L597.29,408.6 L598.29,409.09 L599.3,409.55 L600.3,410 L601.3,410.43 L602.31,410.85 L603.31,411.24 L604.31,411.62 L605.32,411.98 L606.32,412.33 L607.33,412.65 L608.33,412.97 L609.33,413.27 L610.34,413.55 L611.34,413.82 L612.34,414.07 L613.35,414.31 L614.35,414.54 L615.36,414.75 L616.36,414.96 L617.36,415.14 L618.37,415.32 L619.37,415.49 L620.38,415.64 L621.38,415.79 L622.38,415.92 L623.39,416.05 L624.39,416.16 L625.39,416.27 L626.4,416.36 L627.4,416.45 L628.41,416.53 L629.41,416.6 L630.41,416.67 L631.42,416.73 L632.42,416.78 L633.42,416.83 L634.43,416.87 L635.43,416.9 L636.44,416.93 L637.44,416.96 L638.44,416.98 L639.45,416.99 L640.45,417.01 L641.45,417.02 L642.46,417.03 L643.46,417.03 L644.47,417.04 L645.47,417.04 L646.47,417.04 L647.48,417.04 L648.48,417.04 L649.48,417.04 L650.49,417.04 L651.49,417.04 L652.5,417.05 L653.5,417.05" fill="none" stroke="#8fd18a" stroke-width="1.5"/><path d="M67.8,430.15 L68.8,429.98 L69.8,429.8 L70.8,429.62 L71.8,429.43 L72.81,429.23 L73.81,429.03 L74.81,428.81 L75.81,428.6 L76.81,428.37 L77.81,428.14 L78.81,427.9 L79.81,427.66 L80.82,427.41 L81.82,427.15 L82.82,426.89 L83.82,426.62 L84.82,426.34 L85.82,426.06 L86.82,425.77 L87.82,425.47 L88.83,425.17 L89.83,424.86 L90.83,424.55 L91.83,424.23 L92.83,423.91 L93.83,423.57 L94.83,423.24 L95.83,422.9 L96.83,422.55 L97.84,422.19 L98.84,421.83 L99.84,421.47 L100.84,421.1 L101.84,420.72 L102.84,420.34 L103.84,419.95 L104.84,419.56 L105.85,419.16 L106.85,418.76 L107.85,418.35 L108.85,417.93 L109.85,417.52 L110.85,417.09 L111.85,416.66 L112.85,416.23 L113.86,415.79 L114.86,415.35 L115.86,414.9 L116.86,414.44 L117.86,413.98 L118.86,413.52 L119.86,413.05 L120.86,412.58 L121.86,412.1 L122.87,411.62 L123.87,411.14 L124.87,410.65 L125.87,410.15 L126.87,409.65 L127.87,409.15 L128.87,408.64 L129.87,408.13 L130.88,407.61 L131.88,407.09 L132.88,406.57 L133.88,406.04 L134.88,405.51 L135.88,404.97 L136.88,404.43 L137.88,403.88 L138.88,403.34 L139.89,402.78 L140.89,402.23 L141.89,401.67 L142.89,401.11 L143.89,400.54 L144.89,399.97 L145.89,399.4 L146.89,398.82 L147.9,398.24 L148.9,397.66 L149.9,397.07 L150.9,396.48 L151.9,395.88 L152.9,395.29 L153.9,394.69 L154.9,394.09 L155.91,393.48 L156.91,392.87 L157.91,392.26 L158.91,391.64 L159.91,391.03 L160.91,390.41 L161.91,389.78 L162.91,389.16 L163.91,388.53 L164.92,387.9 L165.92,387.27 L166.92,386.63 L167.92,385.99 L168.92,385.35 L169.92,384.71 L170.92,384.06 L171.92,383.41 L172.93,382.76 L173.93,382.11 L174.93,381.46 L175.93,380.8 L176.93,380.14 L177.93,379.48 L178.93,378.82 L179.93,378.15 L180.94,377.49 L181.94,376.82 L182.94,376.15 L183.94,375.48 L184.94,374.8 L185.94,374.13 L186.94,373.45 L187.94,372.77 L188.94,372.09 L189.95,371.41 L190.95,370.73 L191.95,370.04 L192.95,369.36 L193.95,368.67 L194.95,367.98 L195.95,367.29 L196.95,366.6 L197.96,365.91 L198.96,365.22 L199.96,364.53 L200.96,363.83 L201.96,363.14 L202.96,362.44 L203.96,361.74 L204.96,361.05 L205.97,360.35 L206.97,359.65 L207.97,358.95 L208.97,358.25 L209.97,357.55 L210.97,356.85 L211.97,356.14 L212.97,355.44 L213.97,354.74 L214.98,354.04 L215.98,353.33 L216.98,352.63 L217.98,351.93 L218.98,351.22 L219.98,350.52 L220.98,349.81 L221.98,349.11 L222.99,348.41 L223.99,347.7 L224.99,347 L225.99,346.3 L226.99,345.59 L227.99,344.89 L228.99,344.19 L229.99,343.49 L231,342.78 L232,342.08 L233,341.38 L234,340.68 L235,339.98 L236,339.28 L237,338.59 L238,337.89 L239,337.19 L240.01,336.5 L241.01,335.8 L242.01,335.11 L243.01,334.42 L244.01,333.72 L245.01,333.03 L246.01,332.34 L247.01,331.65 L248.02,330.97 L249.02,330.28 L250.02,329.6 L251.02,328.91 L252.02,328.23 L253.02,327.55 L254.02,326.87 L255.02,326.19 L256.02,325.52 L257.03,324.84 L258.03,324.17 L259.03,323.5 L260.03,322.83 L261.03,322.16 L262.03,321.5 L263.03,320.84 L264.03,320.17 L265.04,319.52 L266.04,318.86 L267.04,318.2 L268.04,317.55 L269.04,316.9 L270.04,316.25 L271.04,315.61 L272.04,314.97 L273.05,314.33 L274.05,313.69 L275.05,313.06 L276.05,312.42 L277.05,311.79 L278.05,311.17 L279.05,310.54 L280.05,309.92 L281.05,309.31 L282.06,308.69 L283.06,308.08 L284.06,307.47 L285.06,306.87 L286.06,306.27 L287.06,305.67 L288.06,305.08 L289.06,304.48 L290.07,303.9 L291.07,303.31 L292.07,302.73 L293.07,302.16 L294.07,301.58 L295.07,301.02 L296.07,300.45 L297.07,299.89 L298.08,299.33 L299.08,298.78 L300.08,298.23 L301.08,297.69 L302.08,297.15 L303.08,296.61 L304.08,296.08 L305.08,295.55 L306.08,295.03 L307.09,294.51 L308.09,293.99 L309.09,293.49 L310.09,292.98 L311.09,292.48 L312.09,291.99 L313.09,291.5 L314.09,291.01 L315.1,290.53 L316.1,290.06 L317.1,289.59 L318.1,289.12 L319.1,288.66 L320.1,288.21 L321.1,287.76 L322.1,287.31 L323.11,286.87 L324.11,286.44 L325.11,286.01 L326.11,285.59 L327.11,285.18 L328.11,284.77 L329.11,284.36 L330.11,283.96 L331.11,283.57 L332.12,283.18 L333.12,282.8 L334.12,282.43 L335.12,282.06 L336.12,281.7 L337.12,281.34 L338.12,280.99 L339.12,280.65 L340.13,280.31 L341.13,279.98 L342.13,279.65 L343.13,279.33 L344.13,279.02 L345.13,278.72 L346.13,278.42 L347.13,278.13 L348.14,277.85 L349.14,277.57 L350.14,277.3 L351.14,277.03 L352.14,276.78 L353.14,276.52 L354.14,276.28 L355.14,276.04 L356.14,275.81 L357.15,275.59 L358.15,275.37 L359.15,275.16 L360.15,274.96 L361.15,274.76 L362.15,274.57 L363.15,274.39 L364.15,274.21 L365.16,274.04 L366.16,273.88 L367.16,273.73 L368.16,273.58 L369.16,273.44 L370.16,273.3 L371.16,273.17 L372.16,273.05 L373.16,272.94 L374.17,272.83 L375.17,272.73 L376.17,272.63 L377.17,272.55 L378.17,272.47 L379.17,272.39 L380.17,272.33 L381.17,272.27 L382.18,272.21 L383.18,272.17 L384.18,272.13 L385.18,272.1 L386.18,272.07 L387.18,272.06 L388.18,272.04 L389.18,272.04 L390.19,272.04 L391.19,272.05 L392.19,272.07 L393.19,272.09 L394.19,272.13 L395.19,272.16 L396.19,272.21 L397.19,272.26 L398.19,272.32 L399.2,272.38 L400.2,272.46 L401.2,272.54 L402.2,272.62 L403.2,272.72 L404.2,272.82 L405.2,272.93 L406.2,273.04 L407.21,273.16 L408.21,273.29 L409.21,273.43 L410.21,273.57 L411.21,273.72 L412.21,273.88 L413.21,274.04 L414.21,274.22 L415.22,274.39 L416.22,274.58 L417.22,274.77 L418.22,274.97 L419.22,275.17 L420.22,275.38 L421.22,275.6 L422.22,275.82 L423.22,276.05 L424.23,276.28 L425.23,276.53 L426.23,276.77 L427.23,277.03 L428.23,277.29 L429.23,277.55 L430.23,277.82 L431.23,278.1 L432.24,278.38 L433.24,278.67 L434.24,278.97 L435.24,279.27 L436.24,279.57 L437.24,279.88 L438.24,280.2 L439.24,280.52 L440.25,280.85 L441.25,281.18 L442.25,281.52 L443.25,281.86 L444.25,282.2 L445.25,282.56 L446.25,282.91 L447.25,283.28 L448.25,283.64 L449.26,284.01 L450.26,284.39 L451.26,284.77 L452.26,285.15 L453.26,285.54 L454.26,285.94 L455.26,286.34 L456.26,286.74 L457.27,287.15 L458.27,287.56 L459.27,287.97 L460.27,288.39 L461.27,288.81 L462.27,289.24 L463.27,289.67 L464.27,290.11 L465.28,290.55 L466.28,290.99 L467.28,291.43 L468.28,291.88 L469.28,292.34 L470.28,292.79 L471.28,293.25 L472.28,293.72 L473.28,294.18 L474.29,294.65 L475.29,295.13 L476.29,295.6 L477.29,296.08 L478.29,296.57 L479.29,297.05 L480.29,297.54 L481.29,298.03 L482.3,298.52 L483.3,299.02 L484.3,299.52 L485.3,300.02 L486.3,300.53 L487.3,301.03 L488.3,301.54 L489.3,302.05 L490.3,302.57 L491.31,303.08 L492.31,303.6 L493.31,304.12 L494.31,304.64 L495.31,305.17 L496.31,305.69 L497.31,306.22 L498.31,306.75 L499.32,307.28 L500.32,307.82 L501.32,308.35 L502.32,308.89 L503.32,309.43 L504.32,309.97 L505.32,310.51 L506.32,311.05 L507.33,311.6 L508.33,312.14 L509.33,312.69 L510.33,313.23 L511.33,313.78 L512.33,314.33 L513.33,314.88 L514.33,315.43 L515.33,315.98 L516.34,316.54 L517.34,317.09 L518.34,317.64 L519.34,318.2 L520.34,318.75 L521.34,319.31 L522.34,319.87 L523.34,320.42 L524.35,320.98 L525.35,321.53 L526.35,322.09 L527.35,322.65 L528.35,323.21 L529.35,323.76 L530.35,324.32 L531.35,324.88 L532.36,325.43 L533.36,325.99 L534.36,326.55 L535.36,327.1 L536.36,327.66 L537.36,328.21 L538.36,328.77 L539.36,329.32 L540.36,329.87 L541.37,330.42 L542.37,330.98 L543.37,331.53 L544.37,332.08 L545.37,332.63 L546.37,333.17 L547.37,333.72 L548.37,334.26 L549.38,334.81 L550.38,335.35 L551.38,335.89 L552.38,336.43 L553.38,336.97 L554.38,337.51 L555.38,338.05 L556.38,338.58 L557.39,339.11 L558.39,339.64 L559.39,340.17 L560.39,340.7 L561.39,341.23 L562.39,341.75 L563.39,342.27 L564.39,342.79 L565.39,343.31 L566.4,343.82 L567.4,344.33 L568.4,344.84 L569.4,345.35 L570.4,345.86 L571.4,346.36 L572.4,346.86 L573.4,347.36 L574.41,347.85 L575.41,348.35 L576.41,348.84 L577.41,349.32 L578.41,349.81 L579.41,350.29 L580.41,350.77 L581.41,351.24 L582.42,351.71 L583.42,352.18 L584.42,352.64 L585.42,353.11 L586.42,353.56 L587.42,354.02 L588.42,354.47 L589.42,354.92 L590.42,355.36 L591.43,355.8 L592.43,356.24 L593.43,356.67 L594.43,357.1 L595.43,357.53 L596.43,357.95 L597.43,358.37 L598.43,358.78 L599.44,359.19 L600.44,359.59 L601.44,359.99 L602.44,360.39 L603.44,360.78 L604.44,361.17 L605.44,361.55 L606.44,361.93 L607.44,362.3 L608.45,362.67 L609.45,363.03 L610.45,363.39 L611.45,363.75 L612.45,364.1 L613.45,364.44 L614.45,364.78 L615.45,365.12 L616.46,365.44 L617.46,365.77 L618.46,366.09 L619.46,366.4 L620.46,366.71 L621.46,367.01 L622.46,367.31 L623.46,367.6 L624.47,367.88 L625.47,368.16 L626.47,368.44 L627.47,368.71 L628.47,368.97 L629.47,369.23 L630.47,369.48 L631.47,369.72 L632.47,369.96 L633.48,370.19 L634.48,370.42 L635.48,370.64 L636.48,370.85 L637.48,371.06 L638.48,371.26 L639.48,371.45 L640.48,371.64 L641.49,371.82 L642.49,371.99 L643.49,372.16 L644.49,372.32 L645.49,372.48 L646.49,372.62 L647.49,372.76 L648.49,372.89 L649.5,373.02 L650.5,373.14 L651.5,373.25 L652.5,373.35 L653.5,373.45" fill="none" stroke="#2b75b5" stroke-width="1.93" stroke-dasharray="1.93 5.78 7.71 5.78"/><line x1="489.4" y1="430.45" x2="489.4" y2="272.3" stroke="#b5123f" stroke-width="1.93" stroke-dasharray="1.92 5.76"/><line x1="483.3" y1="430.8" x2="483.3" y2="272.3" stroke="#f4a15a" stroke-width="1.93" stroke-dasharray="7.72 7.73"/><line x1="448.35" y1="430.6" x2="448.35" y2="272.3" stroke="#8fd18a" stroke-width="1.5"/><line x1="389.8" y1="430.75" x2="389.8" y2="272.3" stroke="#2b75b5" stroke-width="1.93" stroke-dasharray="1.93 5.78 7.71 5.78"/><text x="152.3" y="506.8" font-size="12.5">design</text><line x1="201.2" y1="502.4" x2="243" y2="502.4" stroke="#b5123f" stroke-width="1.93" stroke-dasharray="1.9 5.75"/><text x="253" y="506.8" font-size="12.5">cUCB</text><line x1="297.8" y1="502.1" x2="339.6" y2="502.1" stroke="#f4a15a" stroke-width="1.93" stroke-dasharray="8.4 6.6"/><text x="350" y="506.8" font-size="12.5">tMSE</text><line x1="392.6" y1="502.3" x2="433.3" y2="502.3" stroke="#8fd18a" stroke-width="1.5"/><text x="444" y="506.8" font-size="12.5">gSUR</text><line x1="489.4" y1="502.2" x2="531" y2="502.2" stroke="#2b75b5" stroke-width="1.93" stroke-dasharray="1.9 5.7 7.8 5.7"/><text x="541.8" y="506.8" font-size="12.5">SUR</text></svg>
</body></html>
